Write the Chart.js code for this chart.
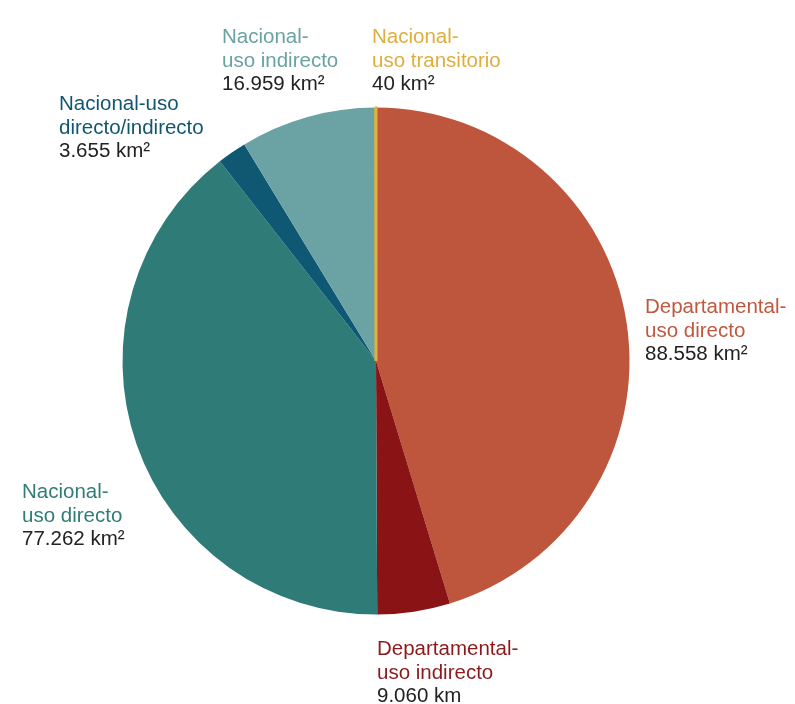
<!DOCTYPE html>
<html>
<head>
<meta charset="utf-8">
<script src="https://cdn.jsdelivr.net/npm/chart.js@4"></script>
<style>
  html,body{margin:0;padding:0;background:#fff;}
  #wrap{width:795px;height:704px;position:relative;}
</style>
</head>
<body>
<div id="wrap"><canvas id="pie"></canvas></div>
<script>
// categories, clockwise from the top
const categories = [
  ["Departamental-","uso directo"],
  ["Departamental-","uso indirecto"],
  ["Nacional-","uso directo"],
  ["Nacional-uso","directo/indirecto"],
  ["Nacional-","uso indirecto"],
  ["Nacional-","uso transitorio"]
];
const areaKm2 = [88558, 9060, 77262, 3655, 16959, 40];
const units = ["km²","km","km²","km²","km²","km²"];
const sliceColors = ["#bd563c","#8a1316","#2e7b77","#0f5874","#6ba3a5","#e0b13c"];
const labelColors = ["#c0583e","#8c1a1c","#2f7d78","#11566f","#6aa2a4","#dfae3e"];
// label anchors (left x, first baseline y)
const labelPos = [[645,313],[377,655],[22,498],[59,110],[222,43],[372,43]];

const fmt = v => String(v).replace(/\B(?=(\d{3})+(?!\d))/g, ".");

const labelPlugin = {
  id: "sliceLabels",
  afterDraw(chart){
    const ctx = chart.ctx;
    ctx.save();
    ctx.font = "20.5px 'Liberation Sans', Arial, sans-serif";
    ctx.textBaseline = "alphabetic";
    ctx.textAlign = "left";
    categories.forEach((lines,i)=>{
      const [x,y] = labelPos[i];
      ctx.fillStyle = labelColors[i];
      ctx.fillText(lines[0], x, y);
      ctx.fillText(lines[1], x, y+24);
      ctx.fillStyle = "#222";
      ctx.fillText(fmt(areaKm2[i]) + " " + units[i], x, y+47);
    });
    ctx.restore();
  }
};

new Chart(document.getElementById("pie"),{
  type:"pie",
  data:{
    labels: categories.map(l=>l.join(" ")),
    datasets:[{
      data: areaKm2,
      backgroundColor: sliceColors,
      borderColor: sliceColors,
      borderWidth: [0,0,0,0,0,3]
    }]
  },
  options:{
    responsive:true,
    maintainAspectRatio:false,
    animation:false,
    layout:{padding:{left:121,right:164,top:106,bottom:88}},
    plugins:{legend:{display:false},tooltip:{enabled:false}}
  },
  plugins:[labelPlugin]
});
</script>
</body>
</html>
